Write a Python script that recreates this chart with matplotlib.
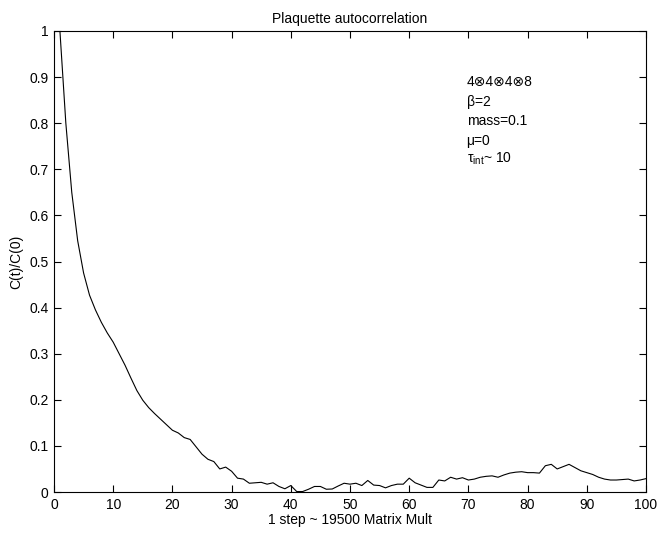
import matplotlib
matplotlib.use("Agg")
import matplotlib.pyplot as plt
import numpy as np

plt.rcParams['font.family'] = ['Liberation Sans', 'DejaVu Sans']
plt.rcParams['mathtext.fontset'] = 'custom'
plt.rcParams['mathtext.rm'] = 'Liberation Sans'
plt.rcParams['mathtext.it'] = 'Liberation Sans'

# Data
steps = list(range(1, 101))
autocorr = [
    1.00, 0.80, 0.65, 0.545, 0.475, 0.427, 0.395, 0.368, 0.345, 0.325,
    0.30, 0.275, 0.247, 0.22, 0.199, 0.183, 0.17, 0.158, 0.146, 0.134,
    0.128, 0.118, 0.114, 0.098, 0.082, 0.071, 0.066, 0.050, 0.054, 0.045,
    0.030, 0.028, 0.019, 0.020, 0.021, 0.017, 0.020, 0.012, 0.007, 0.014,
    0.001, 0.001, 0.006, 0.012, 0.012, 0.006, 0.0065, 0.013, 0.019, 0.017,
    0.019, 0.014, 0.025, 0.015, 0.014, 0.009, 0.014, 0.017, 0.017, 0.030,
    0.020, 0.015, 0.010, 0.010, 0.026, 0.024, 0.032, 0.028, 0.031, 0.026,
    0.028, 0.032, 0.034, 0.035, 0.032, 0.037, 0.041, 0.043, 0.044, 0.042,
    0.042, 0.041, 0.057, 0.060, 0.050, 0.055, 0.060, 0.053, 0.046, 0.042,
    0.038, 0.032, 0.028, 0.026, 0.026, 0.027, 0.028, 0.024, 0.026, 0.029,
]
xticks = list(range(0, 101, 10))
yticks = [0, 0.1, 0.2, 0.3, 0.4, 0.5, 0.6, 0.7, 0.8, 0.9, 1]
ytick_labels = ['0', '0.1', '0.2', '0.3', '0.4', '0.5', '0.6', '0.7', '0.8', '0.9', '1']
info_lines = ['4\u22974\u22974\u22978', '\u03b2=2', 'mass=0.1', '\u03bc=0', r'$\tau_{\mathrm{int}}$~ 10']
info_y = [0.889, 0.846, 0.804, 0.761, 0.722]

fig = plt.figure(figsize=(6.58, 5.36), dpi=100)
ax = fig.add_axes([54/658, 1 - 492/536, 592/658, 461/536])
ax.plot(steps, autocorr, color='black', linewidth=0.8)
ax.set_xlim(0, 100)
ax.set_ylim(0, 1)
ax.set_xticks(xticks)
ax.set_yticks(yticks)
ax.set_yticklabels(ytick_labels)
ax.tick_params(direction='in', top=True, right=True, length=5, width=0.8, labelsize=10, pad=4)
for s in ax.spines.values():
    s.set_linewidth(0.8)
ax.set_title('Plaquette autocorrelation', fontsize=10, pad=6)
ax.set_xlabel('1 step ~ 19500 Matrix Mult', fontsize=10, labelpad=1)
ax.set_ylabel('C(t)/C(0)', fontsize=10, labelpad=4)
for txt, yy in zip(info_lines, info_y):
    ax.text(69.7, yy, txt, fontsize=10, ha='left', va='center')

fig.savefig('out.png', dpi=100)
